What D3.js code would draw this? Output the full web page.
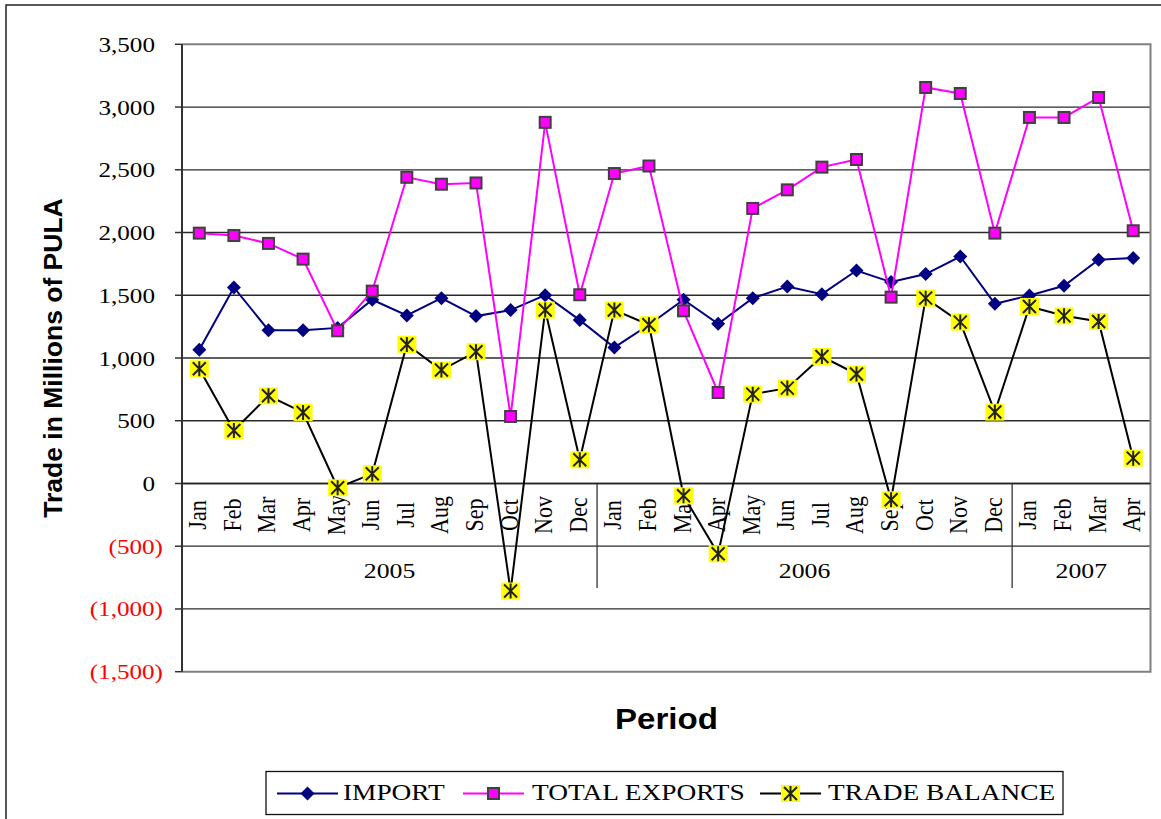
<!DOCTYPE html>
<meta charset="utf-8">
<style>
html, body {
  margin: 0;
  background: #fff;
}
text {
  font-family: "Liberation Serif", "Times New Roman", serif;
  fill: #000;
}
.title {
  font-family: "Liberation Sans", Arial, sans-serif;
  font-weight: bold;
}
</style>
<svg></svg>
<script src="https://d3js.org/d3.v7.min.js"></script>
<script>
// Monthly trade figures, millions of Pula
var months = ["Jan","Feb","Mar","Apr","May","Jun","Jul","Aug","Sep","Oct","Nov","Dec",
              "Jan","Feb","Mar","Apr","May","Jun","Jul","Aug","Sep","Oct","Nov","Dec",
              "Jan","Feb","Mar","Apr"];
var years = ["2005", "2006", "2007"];
var monthsPerYear = [12, 12, 4];

var imports = [1065,1562,1222,1222,1240,1464,1339,1477,1334,1382,1501,1302,
               1084,1265,1464,1273,1477,1570,1509,1697,1605,1669,1809,1432,
               1498,1576,1783,1796];
var exports = [1995,1976,1913,1788,1217,1533,2440,2385,2395,534,2878,1504,
               2470,2530,1376,725,2192,2340,2521,2582,1485,3156,3108,1995,
               2917,2917,3076,2014];
var balance = [914,422,699,566,-34,77,1108,904,1050,-857,1382,189,
               1382,1265,-98,-560,712,760,1012,872,-130,1477,1286,569,
               1411,1336,1291,202];

var yTicks = [-1500,-1000,-500,0,500,1000,1500,2000,2500,3000,3500];
var seriesNames = ["IMPORT", "TOTAL EXPORTS", "TRADE BALANCE"];

var width = 1161, height = 819;

var svg = d3.select('svg')
  .attr('width', width)
  .attr('height', height);

var x = d3.scaleBand()
  .domain(d3.range(months.length))
  .range([182, 1150.5]);
var cx = function (i) { return x(i) + x.bandwidth() / 2; };

var y = d3.scaleLinear()
  .domain([-1500, 3500])
  .range([671.7, 44.3]);

// outer frame
svg.append('path')
  .attr('d', 'M6,' + (height + 5) + 'V5H' + (width + 5))
  .attr('fill', 'none')
  .attr('stroke', '#222')
  .attr('stroke-width', 1.5);

// serif text in the original is widened, so stretch it a bit
function stext(parent, str, px, py, size, anchor, rot, sx) {
  return parent.append('text')
    .attr('transform', 'translate(' + px + ',' + py + ') scale(' + (sx || 1.17) + ',1)' + (rot ? ' rotate(' + rot + ')' : ''))
    .attr('text-anchor', anchor)
    .style('font-size', size + 'px')
    .text(str);
}

// gridlines
svg.append('g')
  .selectAll('line').data(yTicks.slice(1, -1))
  .enter().append('line')
  .attr('x1', 182).attr('x2', 1150.5)
  .attr('y1', function (d) { return y(d); })
  .attr('y2', function (d) { return y(d); })
  .attr('stroke', '#2a2a2a')
  .attr('stroke-width', 1.3);

// plot border (top, right, bottom)
svg.append('path')
  .attr('d', 'M182,' + y(3500) + 'H1150.5V' + y(-1500) + 'H182')
  .attr('fill', 'none')
  .attr('stroke', '#808080')
  .attr('stroke-width', 2);

// left axis with ticks
svg.append('line')
  .attr('x1', 182).attr('x2', 182)
  .attr('y1', y(3500)).attr('y2', y(-1500))
  .attr('stroke', '#333').attr('stroke-width', 2);

svg.append('g')
  .selectAll('line').data(yTicks)
  .enter().append('line')
  .attr('x1', 175).attr('x2', 182)
  .attr('y1', function (d) { return y(d); })
  .attr('y2', function (d) { return y(d); })
  .attr('stroke', '#333').attr('stroke-width', 1.5);

var fmt = d3.format(',');
var yLab = svg.append('g');
yTicks.forEach(function (d) {
  var t = d < 0 ? '(' + fmt(-d) + ')' : fmt(d);
  stext(yLab, t, d < 0 ? 163 : 155, y(d) + 7.5, 21.5, 'end')
    .style('fill', d < 0 ? '#ff0000' : '#000');
});

// category axis line
svg.append('line')
  .attr('x1', 182).attr('x2', 1150.5)
  .attr('y1', y(0)).attr('y2', y(0))
  .attr('stroke', '#222').attr('stroke-width', 1.5);

// month labels
var mLab = svg.append('g');
months.forEach(function (m, i) {
  stext(mLab, m, cx(i) + 7, 515, 22, 'middle', -90);
});

// year separators and labels
var start = 0;
years.forEach(function (yr, k) {
  var n = monthsPerYear[k];
  var mid = (x(start) + x(start + n - 1) + x.bandwidth()) / 2;
  stext(svg, yr, mid, 578, 22, 'middle');
  start += n;
  if (start < months.length) {
    svg.append('line')
      .attr('x1', x(start)).attr('x2', x(start))
      .attr('y1', y(0)).attr('y2', 588)
      .attr('stroke', '#333').attr('stroke-width', 1.3);
  }
});

// axis titles
svg.append('text')
  .attr('class', 'title')
  .attr('transform', 'translate(62,358) rotate(-90)')
  .attr('text-anchor', 'middle')
  .style('font-size', '26.5px')
  .text('Trade in Millions of PULA');

svg.append('text')
  .attr('class', 'title')
  .attr('transform', 'translate(666.5,729) scale(1.14,1)')
  .attr('text-anchor', 'middle')
  .style('font-size', '29px')
  .text('Period');

// markers
function diamond(g, px, py) {
  g.append('path')
    .attr('d', 'M' + px + ',' + (py - 7) + 'l7,7l-7,7l-7,-7z')
    .attr('fill', '#000080');
}
function square(g, px, py) {
  g.append('rect')
    .attr('x', px - 5.5).attr('y', py - 5.5)
    .attr('width', 11).attr('height', 11)
    .attr('fill', '#ff00ff')
    .attr('stroke', '#404040').attr('stroke-width', 2);
}
function star(g, px, py) {
  g.append('rect')
    .attr('x', px - 9.5).attr('y', py - 8.5)
    .attr('width', 19).attr('height', 17)
    .attr('fill', '#ffff00');
  g.append('path')
    .attr('d', 'M' + px + ',' + (py - 7.5) + 'v15' +
               'M' + (px - 6.5) + ',' + (py - 6.5) + 'l13,13' +
               'M' + (px - 6.5) + ',' + (py + 6.5) + 'l13,-13')
    .attr('stroke', '#222').attr('stroke-width', 2).attr('fill', 'none');
}

var line = d3.line()
  .x(function (d, i) { return cx(i); })
  .y(function (d) { return y(d); });

var series = [
  {values: imports, color: '#000080', marker: diamond},
  {values: exports, color: '#ff00ff', marker: square},
  {values: balance, color: '#000', marker: star}
];

series.forEach(function (s) {
  var g = svg.append('g');
  g.append('path')
    .datum(s.values)
    .attr('d', line)
    .attr('fill', 'none')
    .attr('stroke', s.color)
    .attr('stroke-width', 2);
  s.values.forEach(function (v, i) { s.marker(g, cx(i), y(v)); });
});

// legend
var lg = svg.append('g');
lg.append('rect')
  .attr('x', 266).attr('y', 771.5)
  .attr('width', 797).attr('height', 43)
  .attr('fill', '#fff').attr('stroke', '#111').attr('stroke-width', 1.3);

var legendX = [277, 463, 760];
var legendTextX = [343, 532, 828];
series.forEach(function (s, k) {
  var lx = legendX[k], ly = 793.5;
  lg.append('line')
    .attr('x1', lx).attr('x2', lx + 61)
    .attr('y1', ly).attr('y2', ly)
    .attr('stroke', s.color).attr('stroke-width', 2);
  s.marker(lg, lx + 30.5, ly);
  stext(lg, seriesNames[k], legendTextX[k], 799.5, 24, 'start', 0, 1.14);
});
</script>
